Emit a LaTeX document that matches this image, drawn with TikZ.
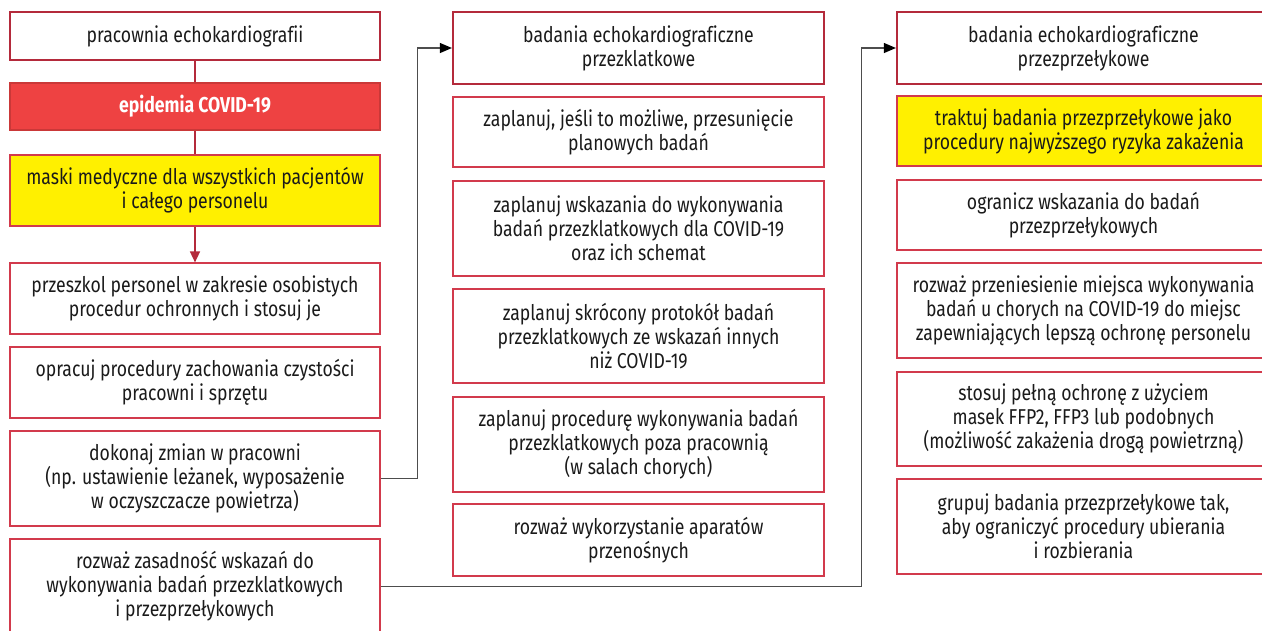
\documentclass[tikz,border=0pt]{standalone}
\usepackage{fontspec}
\setmainfont[FakeStretch=0.82,Ligatures=NoCommon]{Fira Sans}
\usepackage{tikz}
\usetikzlibrary{arrows.meta}
\definecolor{hdrred}{HTML}{B42A3B}
\definecolor{boxred}{HTML}{D23A4C}
\definecolor{covidred}{HTML}{EE4242}
\definecolor{markyellow}{HTML}{FFF000}
\definecolor{txt}{HTML}{1A1A1A}
\definecolor{linegray}{HTML}{4D4D4D}

\tikzset{
  stepbox/.style={draw=boxred,line width=1.2pt,rectangle,align=center,
    text=txt,font=\fontsize{21.5}{24}\selectfont,inner sep=0pt},
  headbox/.style={stepbox,draw=hdrred,line width=2.2pt},
  alarmbox/.style={stepbox,fill=covidred,draw=covidred!85!black,text=white,
    font=\fontsize{21.5}{24}\selectfont\bfseries},
  notebox/.style={stepbox,fill=markyellow},
  conn/.style={draw=linegray,line width=1.1pt,-{Triangle[length=12pt,width=10pt,color=black]}},
  redconn/.style={draw=hdrred,line width=1.6pt}
}

\begin{document}
\begin{tikzpicture}[x=1pt,y=-1pt]
  \useasboundingbox (0,0) rectangle (1262,630);
  \clip (0,0) rectangle (1262,630);
  % left column
  \node[headbox,minimum width=370,minimum height=48] (pracownia) at (195,36) {pracownia echokardiografii};
  \node[alarmbox,minimum width=370,minimum height=47] (epidemia) at (195,106.5) {epidemia COVID-19};
  \node[notebox,minimum width=370,minimum height=71] (maski) at (195,190.5) {maski medyczne dla wszystkich pacjentów\\i całego personelu};
  \node[stepbox,minimum width=370,minimum height=71] (przeszkol) at (195,298.5) {przeszkol personel w zakresie osobistych\\procedur ochronnych i stosuj je};
  \node[stepbox,minimum width=370,minimum height=71] (opracuj) at (195,382.5) {opracuj procedury zachowania czystości\\pracowni i sprzętu};
  \node[stepbox,minimum width=370,minimum height=95] (dokonaj) at (195,478.5) {dokonaj zmian w pracowni\\(np. ustawienie leżanek, wyposażenie\\w oczyszczacze powietrza)};
  \node[stepbox,minimum width=370,minimum height=95] (zasadnosc) at (195,586.5) {rozważ zasadność wskazań do\\wykonywania badań przezklatkowych\\i przezprzełykowych};

  % middle column: TTE
  \node[headbox,minimum width=371,minimum height=72] (tte) at (638.5,48) {badania echokardiograficzne\\przezklatkowe};
  \node[stepbox,minimum width=371,minimum height=70] (tte1) at (638.5,132) {zaplanuj, jeśli to możliwe, przesunięcie\\planowych badań};
  \node[stepbox,minimum width=371,minimum height=95] (tte2) at (638.5,228.5) {zaplanuj wskazania do wykonywania\\badań przezklatkowych dla COVID-19\\oraz ich schemat};
  \node[stepbox,minimum width=371,minimum height=94] (tte3) at (638.5,336) {zaplanuj skrócony protokół badań\\przezklatkowych ze wskazań innych\\niż COVID-19};
  \node[stepbox,minimum width=371,minimum height=95] (tte4) at (638.5,444.5) {zaplanuj procedurę wykonywania badań\\przezklatkowych poza pracownią\\(w salach chorych)};
  \node[stepbox,minimum width=371,minimum height=72] (tte5) at (638.5,540) {rozważ wykorzystanie aparatów\\przenośnych};

  % right column: TEE (runs off the page on the right)
  \node[headbox,minimum width=373,minimum height=72] (tee) at (1083.5,48) {badania echokardiograficzne\\przezprzełykowe};
  \node[notebox,minimum width=373,minimum height=70] (tee1) at (1083.5,131) {traktuj badania przezprzełykowe jako\\procedury najwyższego ryzyka zakażenia};
  \node[stepbox,minimum width=373,minimum height=70] (tee2) at (1083.5,215) {ogranicz wskazania do badań\\przezprzełykowych};
  \node[stepbox,minimum width=373,minimum height=95] (tee3) at (1083.5,310.5) {rozważ przeniesienie miejsca wykonywania\\badań u chorych na COVID-19 do miejsc\\zapewniających lepszą ochronę personelu};
  \node[stepbox,minimum width=373,minimum height=94] (tee4) at (1083.5,419) {stosuj pełną ochronę z użyciem\\masek FFP2, FFP3 lub podobnych\\(możliwość zakażenia drogą powietrzną)};
  \node[stepbox,minimum width=373,minimum height=95] (tee5) at (1083.5,526.5) {grupuj badania przezprzełykowe tak,\\aby ograniczyć procedury ubierania\\i rozbierania};

  % connectors
  \draw[redconn] (pracownia.south) -- (epidemia.north);
  \draw[redconn] (epidemia.south) -- (maski.north);
  \draw[redconn,-{Triangle[length=11pt,width=10pt]}] (maski.south) -- (przeszkol.north);
  \draw[conn] (dokonaj.east) -- ++(37,0) |- (tte.west);
  \draw[conn] (zasadnosc.east) -- ++(481,0) |- (tee.west);
\end{tikzpicture}
\end{document}
